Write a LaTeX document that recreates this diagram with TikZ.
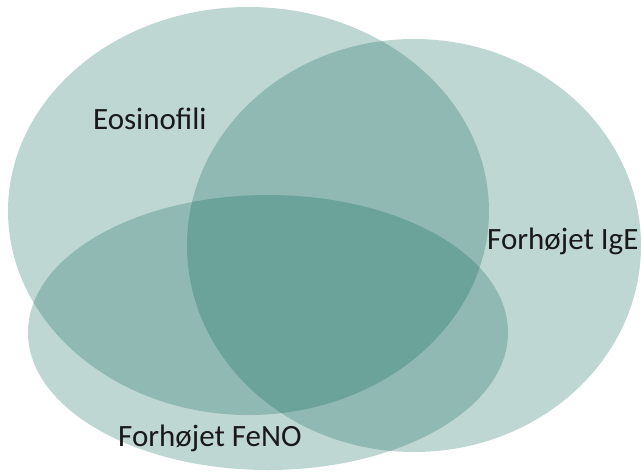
\documentclass[tikz,border=0pt]{standalone}
\usepackage{fontspec}
\setmainfont{Carlito}
\usetikzlibrary{shapes.geometric}
\definecolor{vennteal}{RGB}{0,95,79}
\tikzset{
  venn/.style={ellipse, fill=vennteal, fill opacity=0.25, draw=none, inner sep=0pt},
  lbl/.style={anchor=base west, inner sep=0pt, font=\fontsize{31}{34}\selectfont, text=black!90}
}
\begin{document}
\begin{tikzpicture}[x=1pt,y=-1pt]
\useasboundingbox (0,0) rectangle (643,472);
\node[venn, minimum width=481pt, minimum height=408pt] (eos) at (248.5,211) {};
\node[venn, minimum width=454pt, minimum height=413pt] (ige) at (414,245.5) {};
\node[venn, minimum width=480pt, minimum height=275pt] (feno) at (268,332.5) {};
\node[lbl] (teos) at (93,129) {Eosinofili};
\node[lbl] (tige) at (487,249) {Forhøjet IgE};
\node[lbl] (tfeno) at (118,446) {Forhøjet FeNO};
\end{tikzpicture}
\end{document}
